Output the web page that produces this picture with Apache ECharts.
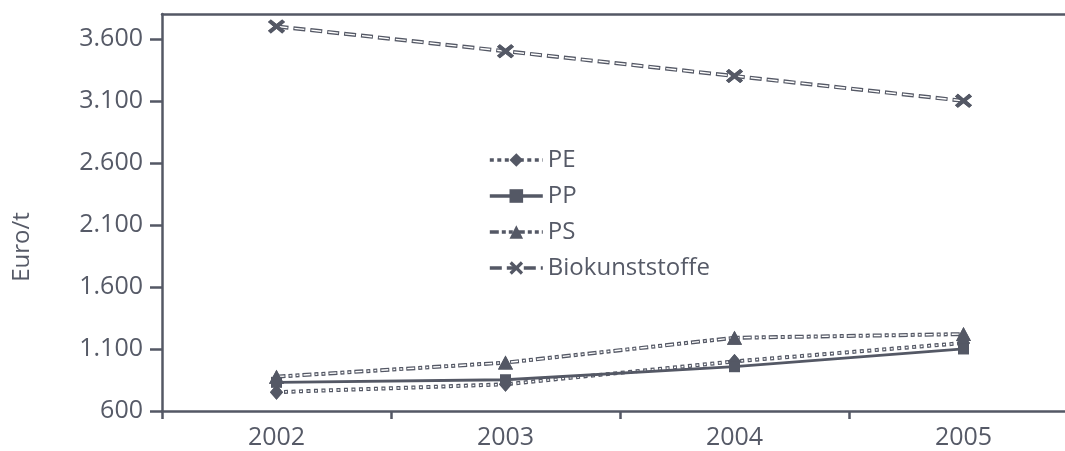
<!DOCTYPE html>
<html>
<head>
<meta charset="utf-8">
<script src="https://cdn.jsdelivr.net/npm/echarts@6/dist/echarts.min.js"></script>
<style>
html,body{margin:0;padding:0;background:#fff;}
#chart{width:1065px;height:451px;}
</style>
</head>
<body>
<div id="chart"></div>
<script>
const years = ['2002', '2003', '2004', '2005'];
const pe = [752, 815, 1000, 1148];
const pp = [831, 852, 957, 1100];
const ps = [877, 990, 1190, 1220];
const bio = [3700, 3500, 3300, 3100];
const yTicks = [600, 1100, 1600, 2100, 2600, 3100, 3600];
const seriesNames = ['PE', 'PP', 'PS', 'Biokunststoffe'];

const DARK = '#545865';
const TEXT = '#565a67';
const FONT = 'Open Sans';

const xCross = 'path://M0,2 L2,0 L6,3.6 L10,0 L12,2 L8.2,5.5 L12,9 L10,11 L6,7.4 L2,11 L0,9 L3.8,5.5 Z';

function fmt(v) {
  return String(v).replace(/\B(?=(\d{3})+(?!\d))/g, '.');
}

// hollow dashed line: dark dashed base + white inner core + symbols on top
function hollow(name, data, dash, symbol, symbolSize) {
  const period = dash.reduce((a, b) => a + b, 0);
  const inner = [];
  for (let i = 0; i < dash.length; i += 2) {
    const d = Math.max(dash[i] - 2, 0.6);
    inner.push(d, dash[i] + dash[i + 1] - d);
  }
  return [
    {
      name: name, type: 'line', data: data, z: 2,
      symbol: symbol, symbolSize: symbolSize, showSymbol: true,
      itemStyle: { color: DARK },
      lineStyle: { color: DARK, width: 4, type: dash, cap: 'butt' },
      silent: true
    },
    {
      name: name + '_core', type: 'line', data: data, z: 3,
      symbol: 'none',
      lineStyle: { color: '#ffffff', width: 1.4, type: inner, dashOffset: period - 1, cap: 'butt' },
      silent: true
    },
    {
      name: name + '_sym', type: 'line', data: data, z: 4,
      symbol: symbol, symbolSize: symbolSize, showSymbol: true,
      itemStyle: { color: DARK },
      lineStyle: { opacity: 0, width: 0 },
      silent: true
    }
  ];
}

const series = [].concat(
  hollow('Biokunststoffe', bio, [12, 5], xCross, [17, 14]),
  hollow('PS', ps, [9, 3, 4, 3, 4, 3], 'triangle', [15, 14]),
  hollow('PE', pe, [4, 3.5], 'diamond', [13, 15]),
  [{
    name: 'PP', type: 'line', data: pp, z: 4,
    symbol: 'rect', symbolSize: 11, showSymbol: true,
    itemStyle: { color: DARK },
    lineStyle: { color: DARK, width: 2.8 },
    silent: true
  }]
);

const chart = echarts.init(document.getElementById('chart'), null, { renderer: 'canvas' });
chart.setOption({
  animation: false,
  backgroundColor: '#ffffff',
  textStyle: { fontFamily: FONT },
  grid: { left: 162, top: 14, width: 916, height: 397, containLabel: false, outerBoundsMode: 'none' },
  legend: {
    data: seriesNames,
    orient: 'vertical',
    left: 488,
    top: 147,
    itemWidth: 53,
    itemHeight: 17,
    itemGap: 10,
    padding: 0,
    selectedMode: false,
    lineStyle: { width: 3.6 },
    textStyle: { color: TEXT, fontSize: 24, fontFamily: FONT, lineHeight: 26 }
  },
  xAxis: [
    {
      type: 'category',
      data: years,
      boundaryGap: true,
      axisLine: { show: true, lineStyle: { color: DARK, width: 2.5 } },
      axisTick: { show: true, length: 8, lineStyle: { color: DARK, width: 2.5 } },
      axisLabel: { color: TEXT, fontSize: 25, fontFamily: FONT, margin: 14 },
      splitLine: { show: false }
    },
    {
      type: 'category',
      data: years,
      position: 'top',
      boundaryGap: true,
      axisLine: { show: true, lineStyle: { color: DARK, width: 2.5 } },
      axisTick: { show: false },
      axisLabel: { show: false },
      splitLine: { show: false }
    }
  ],
  yAxis: {
    type: 'value',
    min: 600,
    max: 3800,
    interval: 500,
    axisLine: { show: true, lineStyle: { color: DARK, width: 2.5 } },
    axisTick: { show: true, length: 12, inside: false, customValues: yTicks, lineStyle: { color: DARK, width: 2.5 } },
    axisLabel: { color: TEXT, fontSize: 25, fontFamily: FONT, margin: 19, customValues: yTicks, formatter: fmt },
    splitLine: { show: false }
  },
  graphic: [{
    type: 'text',
    x: 22, y: 247,
    rotation: Math.PI / 2,
    style: { text: 'Euro/t', fill: TEXT, fontSize: 24, fontFamily: FONT, align: 'center', verticalAlign: 'middle' }
  }],
  series: series
});
</script>
</body>
</html>
